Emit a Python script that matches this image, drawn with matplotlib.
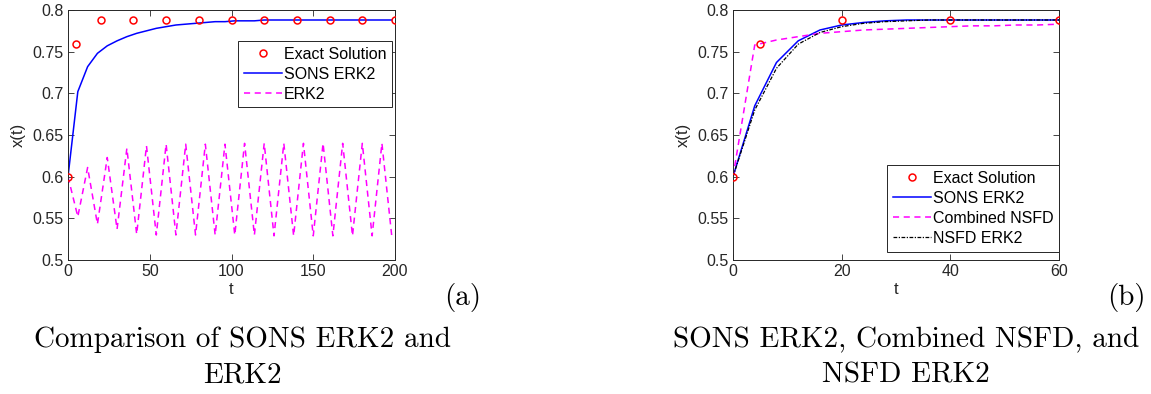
import numpy as np
import matplotlib
matplotlib.use("Agg")
import matplotlib.pyplot as plt

plt.rcParams['font.family'] = ['Liberation Sans', 'DejaVu Sans']

# panel (a): long run, step 6
t_exact_a = [0, 5, 20, 40, 60, 80, 100, 120, 140, 160, 180, 200]
x_exact_a = [0.600, 0.759, 0.788, 0.788, 0.788, 0.788, 0.788, 0.788, 0.788, 0.788, 0.788, 0.788]

t_a = np.arange(0, 199, 6)
sons_a = [0.600, 0.702, 0.732, 0.748, 0.757, 0.763, 0.768, 0.772, 0.775, 0.778,
          0.780, 0.782, 0.783, 0.784, 0.785, 0.786, 0.786, 0.787, 0.787, 0.787,
          0.788, 0.788, 0.788, 0.788, 0.788, 0.788, 0.788, 0.788, 0.788, 0.788,
          0.788, 0.788, 0.788, 0.788]
erk2_a = [0.600, 0.552, 0.611, 0.543, 0.623, 0.537, 0.634, 0.531, 0.637, 0.530,
          0.639, 0.530, 0.639, 0.530, 0.639, 0.530, 0.639, 0.530, 0.640, 0.530,
          0.640, 0.529, 0.640, 0.529, 0.640, 0.529, 0.640, 0.529, 0.640, 0.529,
          0.640, 0.529, 0.640, 0.529]

# panel (b): short run, step 4
t_exact_b = [0, 5, 20, 40, 60]
x_exact_b = [0.600, 0.759, 0.788, 0.788, 0.788]

t_b = np.arange(0, 61, 4)
sons_b = [0.600, 0.685, 0.737, 0.763, 0.776, 0.782, 0.785, 0.787,
          0.788, 0.788, 0.788, 0.788, 0.788, 0.788, 0.788, 0.788]
combined_b = [0.600, 0.758, 0.764, 0.768, 0.772, 0.774, 0.776, 0.777,
              0.778, 0.779, 0.780, 0.781, 0.781, 0.782, 0.782, 0.783]
nsfd_b = [0.600, 0.680, 0.730, 0.759, 0.773, 0.780, 0.784, 0.786,
          0.787, 0.788, 0.788, 0.788, 0.788, 0.788, 0.788, 0.788]

W, H = 1151, 394
fig = plt.figure(figsize=(W / 100, H / 100), dpi=100)

gray = '#262626'


def style_axes(ax, xmax, xticks):
    ax.set_xlim(0, xmax)
    ax.set_ylim(0.5, 0.8)
    ax.set_xticks(xticks)
    ax.set_yticks([0.5, 0.55, 0.6, 0.65, 0.7, 0.75, 0.8])
    ax.set_yticklabels(['0.5', '0.55', '0.6', '0.65', '0.7', '0.75', '0.8'])
    ax.tick_params(direction='in', top=True, right=True, length=4, width=0.6,
                   colors=gray, labelsize=11.5, pad=3)
    for s in ax.spines.values():
        s.set_color(gray)
        s.set_linewidth(0.7)
    ax.set_xlabel('t', fontsize=12, color=gray, labelpad=2)
    ax.set_ylabel('x(t)', fontsize=12, color=gray, labelpad=5)


def legend_at(ax, x, y):
    leg = ax.legend(loc='upper left', bbox_to_anchor=(x / W, 1 - y / H),
                    bbox_transform=fig.transFigure, borderaxespad=0,
                    fontsize=11.5, handlelength=2.4, handletextpad=0.1,
                    labelspacing=0.32, borderpad=0.35, fancybox=False,
                    framealpha=1, edgecolor=gray)
    leg.get_frame().set_linewidth(0.7)


ax1 = fig.add_axes([68 / W, 1 - 260 / H, (395 - 68) / W, 250 / H])
ax1.plot(t_exact_a, x_exact_a, 'o', ms=5, mfc='none', mec='#ff0000', mew=1.1,
         label='Exact Solution', zorder=4)
ax1.plot(t_a, sons_a, '-', color='#0000ff', lw=1.1, label='SONS ERK2')
ax1.plot(t_a, erk2_a, '--', color='#ff00ff', lw=1.1, dashes=(4, 3), label='ERK2')
style_axes(ax1, 200, [0, 50, 100, 150, 200])
legend_at(ax1, 238, 41)

ax2 = fig.add_axes([733 / W, 1 - 260 / H, (1059 - 733) / W, 250 / H])
ax2.plot(t_exact_b, x_exact_b, 'o', ms=5, mfc='none', mec='#ff0000', mew=1.1,
         label='Exact Solution', zorder=4)
ax2.plot(t_b, sons_b, '-', color='#0000ff', lw=1.1, label='SONS ERK2')
ax2.plot(t_b, combined_b, '--', color='#ff00ff', lw=1.1, dashes=(4, 3),
         label='Combined NSFD')
ax2.plot(t_b, nsfd_b, '-.', color='black', lw=0.9, dashes=(3, 1.2, 1, 1.2),
         label='NSFD ERK2')
style_axes(ax2, 60, [0, 20, 40, 60])
legend_at(ax2, 887, 165)

# sub-figure tags and captions
cap = dict(family='cmr10', fontsize=21, color='black', ha='center', va='center')
fig.text(463 / W, 1 - 297 / H, '(a)', **cap)
fig.text(1126 / W, 1 - 297 / H, '(b)', **cap)
fig.text(242 / W, 1 - 340 / H, 'Comparison of SONS ERK2 and', **cap)
fig.text(242 / W, 1 - 375 / H, 'ERK2', **cap)
fig.text(906 / W, 1 - 340 / H, 'SONS ERK2, Combined NSFD, and', **cap)
fig.text(906 / W, 1 - 375 / H, 'NSFD ERK2', **cap)

fig.savefig('out.png', dpi=100)
